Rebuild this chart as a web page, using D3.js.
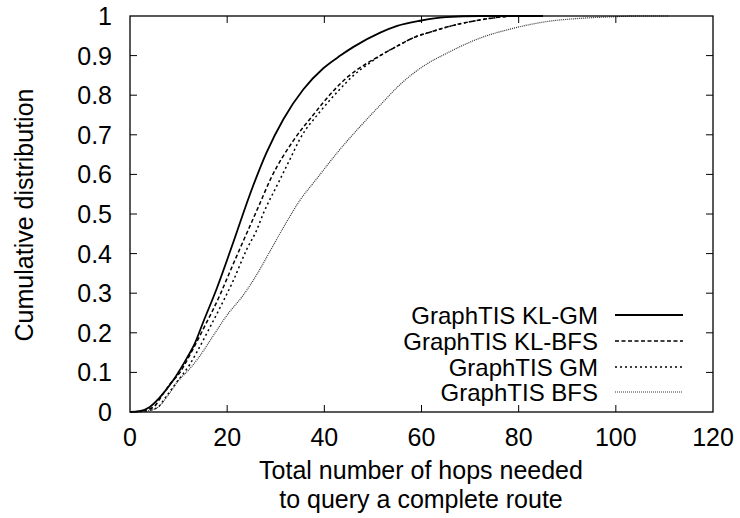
<!DOCTYPE html>
<html><head><meta charset="utf-8">
<script src="https://cdn.jsdelivr.net/npm/d3@7"></script>
<style>body{margin:0;background:#fff}svg{display:block}text{font-family:"Liberation Sans",Arial,sans-serif;fill:#000}</style>
</head><body><svg id="c" width="740" height="518"></svg>
<script>
const xTicks = [0,20,40,60,80,100,120];
const yTicks = [0,0.1,0.2,0.3,0.4,0.5,0.6,0.7,0.8,0.9,1];
const seriesNames = ["GraphTIS KL-GM","GraphTIS KL-BFS","GraphTIS GM","GraphTIS BFS"];
const klgm = [[0,0],[2,0.002],[4,0.012],[6,0.035],[8.9,0.08],[11.7,0.136],[13.3,0.172],[15.1,0.228],[17.8,0.31],[21.3,0.43],[24.7,0.55],[28.1,0.655],[31.6,0.74],[35.7,0.815],[39.8,0.868],[43.3,0.9],[46,0.922],[51.5,0.958],[55,0.975],[59.7,0.988],[65,0.997],[72,1],[85,1]];
const klbfs = [[0,0],[2,0.002],[4.8,0.012],[6.5,0.04],[8.2,0.07],[10.3,0.1],[11.7,0.13],[15.1,0.21],[18.5,0.295],[19.9,0.335],[22,0.395],[24.7,0.47],[26.5,0.52],[29,0.59],[33.6,0.685],[37.7,0.75],[41.8,0.81],[45,0.848],[48.7,0.88],[51.5,0.9],[55.6,0.928],[58.3,0.945],[62,0.96],[65.2,0.972],[72,0.99],[80,1],[85,1]];
const gm = [[0,0],[2,0.001],[5.5,0.01],[7.5,0.04],[9.6,0.075],[12.3,0.12],[13.7,0.15],[16.5,0.215],[18.8,0.27],[21.3,0.333],[24,0.41],[26.1,0.46],[27.4,0.5],[30.5,0.578],[33,0.64],[35,0.69],[39.1,0.758],[43.2,0.815],[46,0.85],[49.4,0.882],[51.5,0.9],[55.6,0.928],[58.3,0.945],[62,0.96],[65.2,0.972],[72,0.99],[80,1],[85,1]];
const bfs = [[0,0],[3,0.002],[5.5,0.01],[8,0.045],[10,0.08],[12,0.105],[14,0.135],[17,0.19],[20,0.245],[23,0.29],[26,0.345],[29,0.41],[32,0.475],[35,0.535],[38.5,0.59],[43,0.66],[47.3,0.72],[51.5,0.775],[55,0.82],[58.3,0.855],[61,0.878],[65.2,0.906],[72,0.944],[78.9,0.969],[85.8,0.986],[92.6,0.994],[99.5,0.998],[105,1],[111,1]];
const allSeries = [klgm, klbfs, gm, bfs];

const styles = [
  {w:1.8, dash:null, color:"#000"},
  {w:1.5, dash:"4,2.5", color:"#000"},
  {w:1.5, dash:"2,3", color:"#000"},
  {w:1.2, dash:"1,1", color:"#333"}
];

const svg = d3.select("#c");
const L=130,R=713,T=16,B=412;
const x = d3.scaleLinear().domain([0,120]).range([L,R]);
const y = d3.scaleLinear().domain([0,1]).range([B,T]);
const fs = 25, lfs = 24;

const tl = 7;
const g = svg.append("g").attr("stroke","#000").attr("stroke-width",1);
xTicks.forEach(t=>{
  if(t>0 && t<120){
    g.append("line").attr("x1",x(t)).attr("x2",x(t)).attr("y1",B).attr("y2",B-tl);
    g.append("line").attr("x1",x(t)).attr("x2",x(t)).attr("y1",T).attr("y2",T+tl);
  }
});
yTicks.forEach(t=>{
  if(t>0 && t<1){
    g.append("line").attr("x1",L).attr("x2",L+tl).attr("y1",y(t)).attr("y2",y(t));
    g.append("line").attr("x1",R).attr("x2",R-tl).attr("y1",y(t)).attr("y2",y(t));
  }
});
svg.selectAll(".xl").data(xTicks).enter().append("text")
  .attr("x",d=>x(d)).attr("y",B+34).attr("text-anchor","middle").attr("font-size",fs).text(d=>d);
svg.selectAll(".yl").data(yTicks).enter().append("text")
  .attr("x",L-18).attr("y",d=>y(d)+9).attr("text-anchor","end").attr("font-size",fs).text(d=>d);

const line = d3.line().x(d=>x(d[0])).y(d=>y(d[1])).curve(d3.curveMonotoneX);
allSeries.forEach((s,i)=>{
  const p = svg.append("path").attr("d",line(s)).attr("fill","none")
    .attr("stroke",styles[i].color).attr("stroke-width",styles[i].w);
  if(styles[i].dash) p.attr("stroke-dasharray",styles[i].dash);
});

svg.append("rect").attr("x",L).attr("y",T).attr("width",R-L).attr("height",B-T)
  .attr("fill","none").attr("stroke","#000").attr("stroke-width",1.3);

const legY = [315,341,367,392];
seriesNames.forEach((n,i)=>{
  svg.append("text").attr("x",598).attr("y",legY[i]+8.5).attr("text-anchor","end").attr("font-size",lfs).text(n);
  const l = svg.append("line").attr("x1",615).attr("x2",683).attr("y1",legY[i]).attr("y2",legY[i])
    .attr("stroke",styles[i].color).attr("stroke-width",styles[i].w);
  if(styles[i].dash) l.attr("stroke-dasharray",styles[i].dash);
});

svg.append("text").attr("transform","translate(33,215) rotate(-90)").attr("text-anchor","middle")
  .attr("font-size",fs).text("Cumulative distribution");
svg.append("text").attr("x",421).attr("y",479).attr("text-anchor","middle").attr("font-size",fs).text("Total number of hops needed");
svg.append("text").attr("x",421).attr("y",508).attr("text-anchor","middle").attr("font-size",fs).text("to query a complete route");
</script></body></html>
